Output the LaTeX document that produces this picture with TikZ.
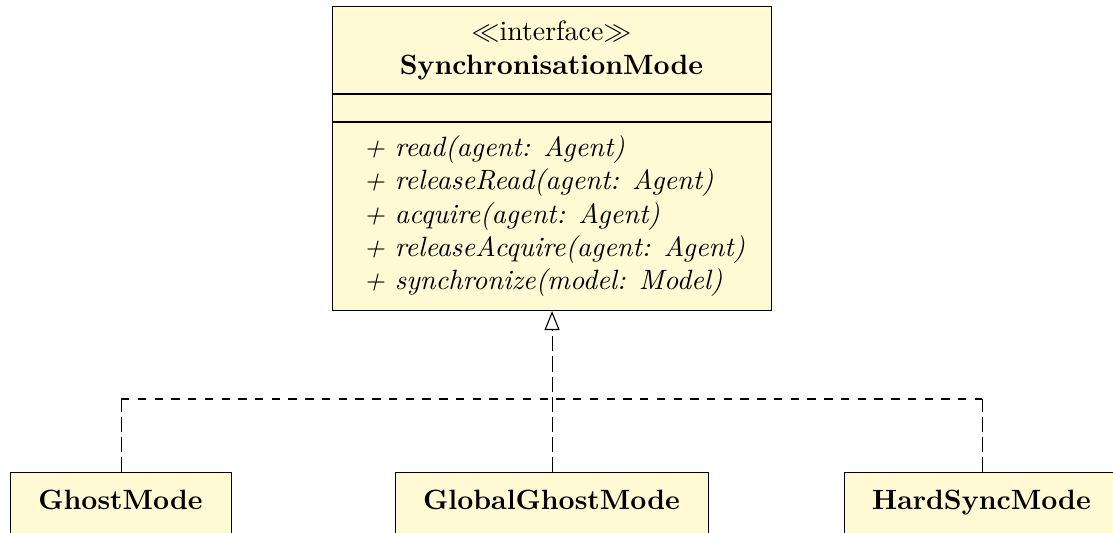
\documentclass[tikz,border=0pt]{standalone}
\usetikzlibrary{arrows.meta}
\definecolor{umlfill}{RGB}{255,250,212}
\begin{document}
\begin{tikzpicture}[x=0.3584pt,y=-0.3584pt]
\tikzset{
  umlbox/.style={draw=black, fill=umlfill, inner sep=0pt, anchor=north west},
  methodtxt/.style={anchor=base west, inner sep=0pt},
  labeltxt/.style={anchor=base, inner sep=0pt},
  implv/.style={dash pattern=on 5.4pt off 1.8pt},
  implh/.style={dash pattern=on 3pt off 3pt},
  realize/.style={-{Triangle[open,length=6.8pt,width=5.4pt]}}
}
\useasboundingbox (0,0) rectangle (1113,532);
\clip (0,0) rectangle (1113,532);

% interface box
\node[umlbox, minimum width={439*0.3584pt}, minimum height={304*0.3584pt}] (iface) at (332,6) {};
\draw (332,94) -- (771,94);
\draw (332,122) -- (771,122);
\node[labeltxt] (stereo) at (551.5,40) {$\ll$interface$\gg$};
\node[labeltxt] (iname) at (551.5,74) {\textbf{SynchronisationMode}};
\node[methodtxt] (m1) at (363,156) {\textit{+ read(agent: Agent)}};
\node[methodtxt] (m2) at (363,189.5) {\textit{+ releaseRead(agent: Agent)}};
\node[methodtxt] (m3) at (363,223) {\textit{+ acquire(agent: Agent)}};
\node[methodtxt] (m4) at (363,256) {\textit{+ releaseAcquire(agent: Agent)}};
\node[methodtxt] (m5) at (363,289.5) {\textit{+ synchronize(model: Model)}};

% implementing classes
\node[umlbox, minimum width={221*0.3584pt}, minimum height={110*0.3584pt}] (ghost) at (10,472) {};
\node[umlbox, minimum width={313*0.3584pt}, minimum height={110*0.3584pt}] (global) at (395,472) {};
\node[umlbox, minimum width={275*0.3584pt}, minimum height={110*0.3584pt}] (hard) at (844,472) {};
\node[labeltxt] (ghostlbl) at (120.5,509.5) {\textbf{GhostMode}};
\node[labeltxt] (globallbl) at (551.5,509.5) {\textbf{GlobalGhostMode}};
\node[labeltxt] (hardlbl) at (981.5,509.5) {\textbf{HardSyncMode}};

% realization connectors
\coordinate (junction) at (551.5,399);
\draw[implv] (ghost.north) -- (ghost.north |- junction);
\draw[implv] (hard.north) -- (hard.north |- junction);
\draw[implh] (ghost.north |- junction) -- (hard.north |- junction);
\draw[implv, realize] (global.north) -- (iface.south);
\end{tikzpicture}
\end{document}
